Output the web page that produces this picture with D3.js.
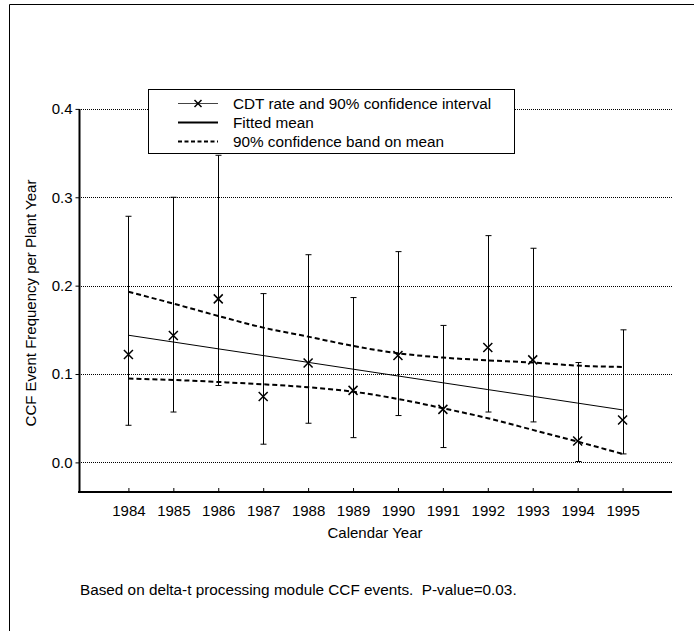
<!DOCTYPE html>
<html>
<head>
<meta charset="utf-8">
<script src="https://cdn.jsdelivr.net/npm/d3@7"></script>
<style>
  html, body { margin: 0; padding: 0; background: #fff; }
  svg { display: block; font-family: "Liberation Sans", Arial, Helvetica, sans-serif; }
  text { white-space: pre; }
</style>
</head>
<body>
<svg id="chart" width="694" height="631"></svg>
<script>
// Calendar years and yearly CDT rates with 90% confidence limits
const years = [1984, 1985, 1986, 1987, 1988, 1989, 1990, 1991, 1992, 1993, 1994, 1995];
const rate = [0.122, 0.1435, 0.185, 0.0745, 0.1125, 0.0815, 0.121, 0.060, 0.130, 0.116, 0.0243, 0.048];
const rateLower = [0.042, 0.057, 0.087, 0.0206, 0.0443, 0.028, 0.053, 0.0168, 0.057, 0.0458, 0.001, 0.0096];
const rateUpper = [0.2785, 0.300, 0.3475, 0.191, 0.235, 0.1865, 0.2385, 0.155, 0.2566, 0.2423, 0.113, 0.150];

// Fitted trend and its 90% confidence band
const fittedMean = [0.1439, 0.1362, 0.1285, 0.1209, 0.1132, 0.1055, 0.0978, 0.0901, 0.0824, 0.0748, 0.0671, 0.0594];
const bandUpper = [0.193, 0.1797, 0.1657, 0.1525, 0.1423, 0.1318, 0.1235, 0.1186, 0.1155, 0.113, 0.1095, 0.108];
const bandLower = [0.0948, 0.0933, 0.091, 0.0884, 0.085, 0.080, 0.0718, 0.0613, 0.050, 0.0368, 0.0235, 0.0096];

const yTicks = [0.0, 0.1, 0.2, 0.3, 0.4];
const legendLabels = ["CDT rate and 90% confidence interval", "Fitted mean", "90% confidence band on mean"];
const xTitle = "Calendar Year";
const yTitle = "CCF Event Frequency per Plant Year";
const footnote = "Based on delta-t processing module CCF events.  P-value=0.03.";

const FONT = "'Liberation Sans', Arial, sans-serif";
const svg = d3.select("#chart");

// page frame (left and top rules)
svg.append("path")
  .attr("d", "M9.5,631 V4.5 H694")
  .attr("fill", "none").attr("stroke", "#000").attr("stroke-width", 1);

const x = d3.scaleLinear().domain([1982.9, 1996.1]).range([79, 672]);
const y = d3.scaleLinear().domain([-0.0335, 0.4]).range([492, 108.9]);

const rows = years.map((yr, i) => ({
  yr, rate: rate[i], lo: rateLower[i], hi: rateUpper[i],
  fit: fittedMean[i], bu: bandUpper[i], bl: bandLower[i]
}));

// horizontal dotted grid
svg.append("g").selectAll("line").data(yTicks).join("line")
  .attr("x1", x.range()[0]).attr("x2", x.range()[1])
  .attr("y1", d => Math.round(y(d)) + 0.5).attr("y2", d => Math.round(y(d)) + 0.5)
  .attr("stroke", "#000").attr("stroke-width", 1).attr("stroke-dasharray", "1,1");

// y axis
const yAxis = d3.axisLeft(y).tickValues(yTicks).tickFormat(d3.format(".1f"))
  .tickSize(4).tickPadding(3);
const gy = svg.append("g").attr("transform", "translate(79.5,0)").call(yAxis);
gy.select(".domain").attr("d", `M0,${y(0.4)}V${y.range()[0]}`).attr("stroke-width", 2);
gy.selectAll(".tick line").attr("stroke-width", 1);
gy.selectAll("text").attr("font-size", 15).attr("fill", "#000").attr("font-family", FONT);

// x axis
const xAxis = d3.axisBottom(x).tickValues(years).tickFormat(d3.format("d"))
  .tickSize(-4).tickPadding(13);
const gx = svg.append("g").attr("transform", "translate(0,492)").call(xAxis);
gx.select(".domain").attr("d", `M${x.range()[0] - 1},0H${x.range()[1]}`).attr("stroke-width", 2);
gx.selectAll(".tick line").attr("stroke-width", 1);
gx.selectAll("text").attr("font-size", 15).attr("fill", "#000").attr("font-family", FONT);

// axis titles
svg.append("text").attr("x", 375).attr("y", 538).attr("text-anchor", "middle")
  .attr("font-size", 15).text(xTitle);
svg.append("text")
  .attr("transform", "translate(36,303) rotate(-90)")
  .attr("text-anchor", "middle").attr("font-size", 15).text(yTitle);

// fitted mean
const line = key => d3.line().x(d => x(d.yr)).y(d => y(d[key]));
svg.append("path").datum(rows).attr("d", line("fit"))
  .attr("fill", "none").attr("stroke", "#000").attr("stroke-width", 1);

// confidence band
["bu", "bl"].forEach(k => {
  svg.append("path").datum(rows).attr("d", line(k).curve(d3.curveMonotoneX))
    .attr("fill", "none").attr("stroke", "#000").attr("stroke-width", 2)
    .attr("stroke-dasharray", "5,3");
});

// error bars
const eb = svg.append("g").attr("stroke", "#000").attr("stroke-width", 1);
eb.selectAll("path").data(rows).join("path")
  .attr("d", d => {
    const cx = Math.round(x(d.yr)) + 0.5, t = y(d.hi), b = y(d.lo);
    return `M${cx},${t}V${b}M${cx - 3},${t}H${cx + 3}M${cx - 3},${b}H${cx + 3}`;
  });

// rate markers
const cross = (cx, cy, r) => `M${cx - r},${cy - r}L${cx + r},${cy + r}M${cx - r},${cy + r}L${cx + r},${cy - r}`;
svg.append("g").selectAll("path").data(rows).join("path")
  .attr("d", d => cross(x(d.yr), y(d.rate), 4.5))
  .attr("stroke", "#000").attr("stroke-width", 1.5).attr("fill", "none");

// legend
const lg = svg.append("g");
lg.append("rect").attr("x", 148.5).attr("y", 89.5).attr("width", 366).attr("height", 64)
  .attr("fill", "#fff").attr("stroke", "#000").attr("stroke-width", 1);
const rowY = [103.5, 122.5, 141.5];
lg.append("line").attr("x1", 178).attr("x2", 218).attr("y1", rowY[0]).attr("y2", rowY[0])
  .attr("stroke", "#444").attr("stroke-width", 1);
lg.append("path").attr("d", cross(198, rowY[0], 3.5)).attr("stroke", "#000").attr("stroke-width", 1.5);
lg.append("line").attr("x1", 178).attr("x2", 218).attr("y1", rowY[1]).attr("y2", rowY[1])
  .attr("stroke", "#000").attr("stroke-width", 2);
lg.append("line").attr("x1", 178).attr("x2", 218).attr("y1", rowY[2]).attr("y2", rowY[2])
  .attr("stroke", "#000").attr("stroke-width", 2).attr("stroke-dasharray", "4,2.5");
lg.selectAll("text").data(legendLabels).join("text")
  .attr("x", 233).attr("y", (d, i) => rowY[i] + 5.5).attr("font-size", 15.3).text(d => d);

// footnote
svg.append("text").attr("x", 80).attr("y", 595).attr("font-size", 15.3).text(footnote);
</script>
</body>
</html>
